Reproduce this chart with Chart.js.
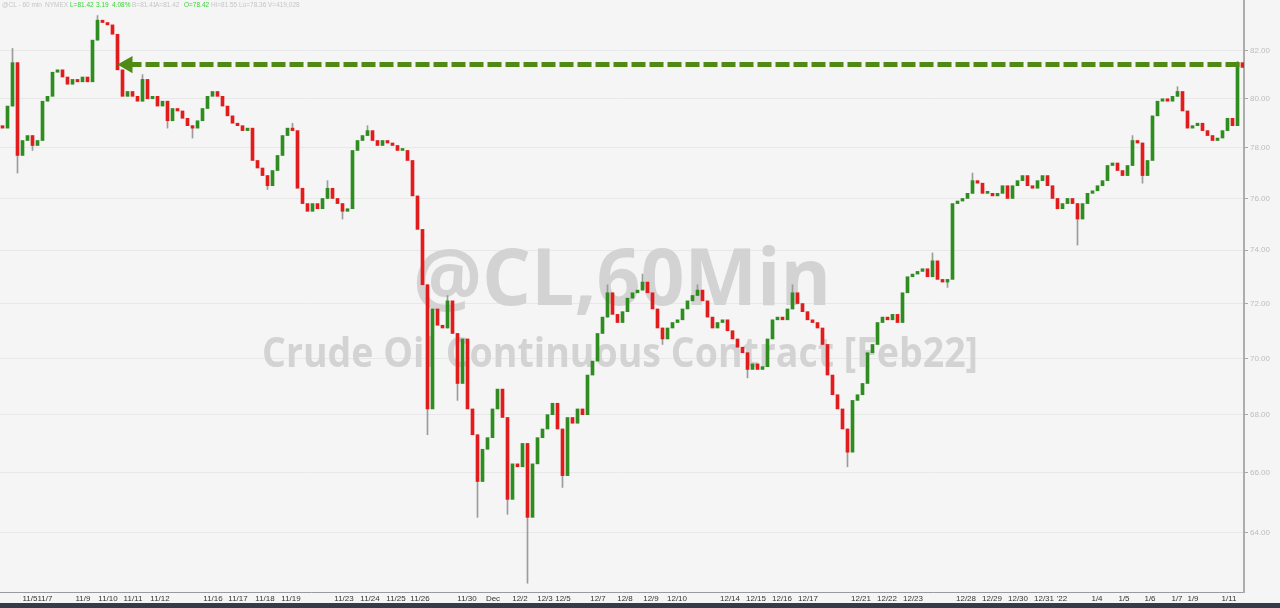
<!DOCTYPE html>
<html>
<head>
<meta charset="utf-8">
<script src="https://cdn.jsdelivr.net/npm/chart.js@4.4.1/dist/chart.umd.min.js"></script>
<style>
  html, body { margin: 0; padding: 0; background: #f5f5f5; }
  #wrap { position: relative; width: 1280px; height: 608px; overflow: hidden; }
  canvas { position: absolute; left: 0; top: 0; }
  #hdr { position: absolute; left: 0; top: 0; width: 320px; height: 10px; font: 6.5px 'Liberation Sans', Arial, sans-serif; color: #c6c6c6; }
  #hdr span { position: absolute; top: 1px; white-space: nowrap; }
  #hdr .g { color: #35d435; }
  #foot { position: absolute; left: 0; top: 603px; width: 1280px; height: 5px; background: #333c48; }
</style>
</head>
<body>
<div id="wrap">
  <canvas id="c" width="1280" height="603"></canvas>
  <div id="hdr">
    <span style="left:2px">@CL - 60 min</span>
    <span style="left:45px">NYMEX</span>
    <span class="g" style="left:70px">L=81.42</span>
    <span class="g" style="left:96px">3.19</span>
    <span class="g" style="left:112px">4.08%</span>
    <span style="left:132px">B=81.41</span>
    <span style="left:155px">A=81.42</span>
    <span class="g" style="left:184px">O=78.42</span>
    <span style="left:211px">Hi=81.55</span>
    <span style="left:239px">Lo=78.36</span>
    <span style="left:268px">V=419,028</span>
  </div>
  <div id="foot"></div>
</div>
<script>
// closes of each bar (about 5 hours per bar), 11/4 -> 1/11
const closes = [
  78.8, 79.7, 81.5, 77.7, 78.3, 78.5, 78.1, 78.3, 79.9, 80.1,
  81.1, 81.2, 80.9, 80.6, 80.8, 80.7, 80.9, 80.7, 82.45, 83.3,
  83.2, 83.1, 82.7, 81.2, 80.1, 80.3, 80.1, 79.9, 80.8, 80.0,
  80.1, 79.7, 79.9, 79.1, 79.6, 79.5, 79.2, 78.9, 78.8, 79.1,
  79.6, 80.1, 80.3, 80.1, 79.7, 79.3, 79.0, 78.9, 78.7, 78.8,
  77.5, 77.2, 76.9, 76.5, 77.1, 77.7, 78.5, 78.8, 78.7, 76.4,
  75.8, 75.5, 75.8, 75.6, 76.0, 76.4, 76.0, 75.8, 75.5, 75.6,
  77.9, 78.3, 78.5, 78.7, 78.3, 78.1, 78.3, 78.2, 78.1, 77.9,
  77.9, 77.5, 76.1, 74.8, 72.7, 68.2, 71.8, 71.2, 71.1, 72.1,
  70.9, 69.1, 70.7, 68.2, 67.3, 65.7, 66.8, 67.2, 68.2, 68.9,
  67.9, 65.1, 66.3, 66.2, 67.0, 64.5, 66.3, 67.2, 67.5, 68.0,
  68.4, 67.5, 65.9, 67.9, 67.7, 68.2, 68.0, 69.4, 69.9, 70.9,
  71.5, 72.4, 71.6, 71.3, 71.7, 72.2, 72.4, 72.5, 72.8, 72.4,
  71.8, 71.1, 70.7, 71.1, 71.3, 71.4, 71.8, 72.1, 72.3, 72.5,
  72.1, 71.5, 71.1, 71.3, 71.4, 71.0, 70.7, 70.4, 70.2, 69.6,
  69.8, 69.6, 69.7, 70.7, 71.4, 71.5, 71.4, 71.8, 72.4, 72.0,
  71.7, 71.4, 71.3, 71.1, 70.5, 69.4, 68.7, 68.2, 67.5, 66.7,
  68.5, 68.7, 69.1, 70.2, 70.5, 71.3, 71.5, 71.4, 71.6, 71.3,
  72.4, 73.0, 73.1, 73.2, 73.3, 73.0, 73.6, 72.9, 72.8, 72.9,
  75.8, 75.9, 76.0, 76.2, 76.7, 76.6, 76.2, 76.2, 76.1, 76.2,
  76.5, 76.0, 76.5, 76.7, 76.9, 76.5, 76.4, 76.7, 76.9, 76.5,
  76.0, 75.6, 75.8, 76.0, 75.8, 75.2, 75.8, 76.2, 76.3, 76.5,
  76.7, 77.3, 77.4, 77.1, 76.9, 77.3, 78.3, 78.2, 76.9, 77.5,
  79.3, 79.9, 80.0, 79.9, 80.1, 80.3, 79.5, 78.8, 78.9, 79.0,
  78.7, 78.5, 78.3, 78.4, 78.7, 79.2, 78.9, 81.5, 81.3
];
const firstOpen = 78.9;

// notable wick extremes
const hiIdx = [2, 19, 28, 58, 65, 73, 89, 121, 128, 139, 158, 186, 194, 226, 235, 247];
const hiVal = [82.1, 83.5, 81.0, 79.0, 76.7, 78.9, 72.3, 72.7, 73.1, 72.7, 72.7, 73.9, 77.0, 78.5, 80.5, 81.55];
const loIdx = [3, 6, 33, 38, 53, 68, 85, 91, 95, 101, 105, 112, 132, 149, 169, 189, 215, 228];
const loVal = [77.0, 77.9, 78.8, 78.4, 76.35, 75.2, 67.3, 68.5, 64.5, 64.6, 62.35, 65.5, 70.5, 69.3, 66.2, 72.6, 74.2, 76.6];

// date ticks (position in bar units)
const dateLabels = ['11/5','11/7','11/9','11/10','11/11','11/12','11/16','11/17','11/18','11/19',
  '11/23','11/24','11/25','11/26','11/30','Dec','12/2','12/3','12/5','12/7','12/8','12/9','12/10',
  '12/14','12/15','12/16','12/17','12/21','12/22','12/23','12/28','12/29','12/30','12/31',"'22",
  '1/4','1/5','1/6','1/7','1/9','1/11'];
const datePos = [5.5, 8.5, 16.1, 21.1, 26.1, 31.5, 42.1, 47.1, 52.5, 57.7,
  68.3, 73.5, 78.7, 83.5, 92.9, 98.1, 103.5, 108.5, 112.1, 119.1, 124.5, 129.7, 134.9,
  145.5, 150.7, 155.9, 161.1, 171.7, 176.9, 182.1, 192.7, 197.9, 203.1, 208.3, 211.9,
  218.9, 224.3, 229.5, 234.9, 238.1, 245.3];

const priceTicks = [64, 66, 68, 70, 72, 74, 76, 78, 80, 82];
const arrowLevel = 81.42;
const arrowFrom = 25;

const opens = closes.map((c, i) => i === 0 ? firstOpen : closes[i - 1]);

const bodies = closes.map((c, i) => ({ x: i, y: [opens[i], c] }));
const bodyColors = closes.map((c, i) => c >= opens[i] ? '#2e8c20' : '#e21c1c');

const wickSet = {};
hiIdx.forEach((k, j) => { wickSet[k] = wickSet[k] || {}; wickSet[k].h = hiVal[j]; });
loIdx.forEach((k, j) => { wickSet[k] = wickSet[k] || {}; wickSet[k].l = loVal[j]; });
const wicks = Object.keys(wickSet).map(Number).sort((a, b) => a - b).map(k => {
  const o = opens[k], c = closes[k];
  const lo = wickSet[k].l !== undefined ? wickSet[k].l : Math.min(o, c);
  const hi = wickSet[k].h !== undefined ? wickSet[k].h : Math.max(o, c);
  return { x: k, y: [lo, hi] };
});

const watermark = {
  id: 'watermark',
  beforeDatasetsDraw(chart) {
    const ctx = chart.ctx;
    ctx.save();
    ctx.fillStyle = '#d3d3d3';
    ctx.textAlign = 'center';
    ctx.textBaseline = 'alphabetic';
    ctx.font = "bold 78px 'Open Sans', 'Liberation Sans', sans-serif";
    ctx.fillText('@CL,60Min', 622, 305, 418);
    ctx.font = "bold 42px 'Open Sans', 'Liberation Sans', sans-serif";
    ctx.fillText('Crude Oil Continuous Contract [Feb22]', 620, 367, 716);
    ctx.restore();
  }
};

const noPad = (scale) => {
  scale.paddingTop = 0; scale.paddingBottom = 0;
  scale.paddingLeft = 0; scale.paddingRight = 0;
};

new Chart(document.getElementById('c'), {
  type: 'bar',
  data: {
    datasets: [
      {
        type: 'line',
        data: [{ x: arrowFrom, y: arrowLevel }, { x: closes.length - 1, y: arrowLevel }],
        borderColor: '#4e8a14',
        borderWidth: 5,
        borderDash: [14, 4],
        borderCapStyle: 'butt',
        pointStyle: 'triangle',
        pointRotation: -90,
        pointRadius: [10, 0],
        pointBackgroundColor: '#4e8a14',
        pointBorderWidth: 0,
        order: 0
      },
      {
        data: bodies,
        backgroundColor: bodyColors,
        barThickness: 3,
        minBarLength: 2,
        grouped: false,
        order: 1
      },
      {
        data: wicks,
        backgroundColor: '#9c9c9c',
        barThickness: 1,
        grouped: false,
        order: 2
      }
    ]
  },
  options: {
    responsive: false,
    animation: false,
    layout: { padding: 0, autoPadding: false },
    plugins: { legend: { display: false }, tooltip: { enabled: false } },
    scales: {
      x: {
        type: 'linear',
        offset: false,
        min: -0.5,
        max: 248.3,
        grid: { display: false, drawTicks: false },
        border: { display: true, color: '#9a9a9a', width: 1 },
        afterBuildTicks: (scale) => { scale.ticks = datePos.map(v => ({ value: v })); },
        afterFit: (scale) => { scale.height = 11; noPad(scale); },
        ticks: {
          autoSkip: false,
          maxRotation: 0,
          padding: 2,
          color: '#333333',
          font: { family: "'Liberation Sans Narrow', 'Liberation Sans', sans-serif", size: 8 },
          callback: (v) => dateLabels[datePos.indexOf(v)]
        }
      },
      y: {
        type: 'logarithmic',
        position: 'right',
        min: 62.07,
        max: 84.17,
        grid: { color: '#e8e8e8', tickColor: '#a8a8a8', tickLength: 4 },
        border: { display: true, color: '#adadad', width: 2 },
        afterBuildTicks: (scale) => { scale.ticks = priceTicks.map(v => ({ value: v })); },
        afterFit: (scale) => { scale.width = 36; noPad(scale); },
        ticks: {
          padding: 2,
          color: '#bdbdbd',
          font: { family: "'Liberation Sans', sans-serif", size: 8 },
          callback: (v) => Number(v).toFixed(2)
        }
      }
    }
  },
  plugins: [watermark]
});
</script>
</body>
</html>
